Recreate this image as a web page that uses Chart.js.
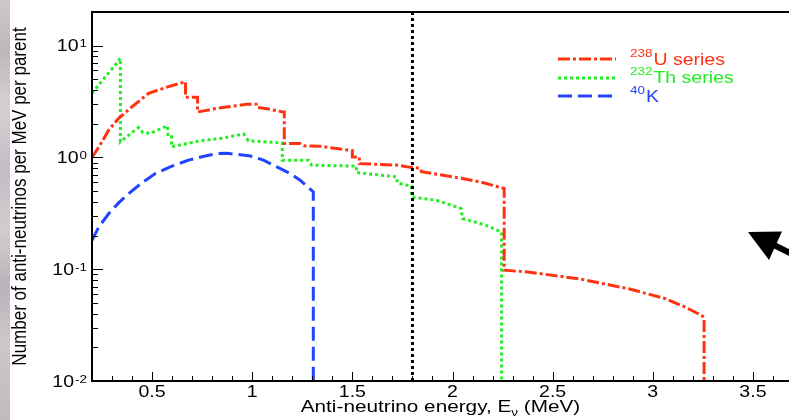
<!DOCTYPE html>
<html>
<head>
<meta charset="utf-8">
<title>Geo-neutrino spectra</title>
<script src="https://cdn.jsdelivr.net/npm/chart.js@4.4.0/dist/chart.umd.min.js"></script>
<style>
    html, body { margin: 0; padding: 0; overflow: hidden; background: #fff; }
    #wrap { position: relative; width: 789px; height: 420px; overflow: hidden; background: #fff; }
    #edge {
        position: absolute; left: 0; top: 0; width: 10px; height: 420px;
        background: linear-gradient(180deg, #cfc9cf 0%, #bdb6bd 12%, #d6d0d6 25%, #c3bcc4 40%,
                    #d2ccd2 55%, #b9b2ba 68%, #cdc7cd 82%, #c1bac1 100%);
    }
    #spectrum { position: absolute; left: 0; top: 0; }
</style>
</head>
<body>
<div id="wrap">
    <div id="edge"></div>
    <canvas id="spectrum" width="800" height="420"></canvas>
</div>
<script>
// anti-neutrino spectra of the 238U and 232Th chains and of 40K (per MeV, per parent decay)
const uEnergy = [0.2, 0.234, 0.284, 0.333, 0.4, 0.483, 0.582, 0.667, 0.667, 0.727, 0.727, 0.824, 0.907, 0.974,
    1.02, 1.023, 1.09, 1.148, 1.16, 1.16, 1.24, 1.26, 1.34, 1.42, 1.5, 1.5, 1.535, 1.535, 1.72, 1.79, 1.84, 1.845,
    1.886, 2.05, 2.15, 2.258, 2.258, 2.385, 2.632, 2.88, 3.065, 3.163, 3.244, 3.256, 3.256];
const uValue = [1.0, 1.24, 1.76, 2.24, 2.84, 3.75, 4.3, 4.75, 3.45, 3.45, 2.55, 2.75, 2.88, 2.99,
    2.99, 2.81, 2.69, 2.56, 2.55, 1.33, 1.33, 1.27, 1.26, 1.2, 1.15, 1.01, 1.01, 0.88, 0.855, 0.815, 0.8, 0.745,
    0.727, 0.648, 0.597, 0.527, 0.098, 0.094, 0.082, 0.0668, 0.0544, 0.0457, 0.0385, 0.037, 0.01];

const thEnergy = [0.2, 0.267, 0.317, 0.342, 0.342, 0.39, 0.433, 0.455, 0.49, 0.577, 0.58, 0.597, 0.597, 0.682,
    0.741, 0.841, 0.957, 0.981, 1.15, 1.15, 1.28, 1.297, 1.52, 1.52, 1.72, 1.725, 1.795, 1.795, 1.919, 2.043,
    2.05, 2.168, 2.245, 2.245];
const thValue = [3.75, 5.28, 6.73, 7.73, 1.38, 1.62, 1.85, 1.66, 1.64, 1.92, 1.53, 1.53, 1.245, 1.34,
    1.41, 1.48, 1.62, 1.41, 1.35, 0.946, 0.946, 0.853, 0.835, 0.733, 0.67, 0.59, 0.553, 0.443, 0.414, 0.349,
    0.284, 0.247, 0.215, 0.01];

const kEnergy = [0.2, 0.234, 0.284, 0.333, 0.383, 0.449, 0.516, 0.599, 0.682, 0.765, 0.831, 0.874, 0.99,
    1.056, 1.123, 1.189, 1.239, 1.305, 1.305];
const kValue = [0.181, 0.239, 0.315, 0.392, 0.475, 0.592, 0.719, 0.836, 0.946, 1.03, 1.086, 1.09, 1.03,
    0.946, 0.824, 0.719, 0.626, 0.491, 0.01];

// inverse beta decay threshold
const thresholdEnergy = 1.8;

const xTickValues = [0.5, 1, 1.5, 2, 2.5, 3, 3.5];
const xTickLabels = ['0.5', '1', '1.5', '2', '2.5', '3', '3.5'];
const yTickExponents = [1, 0, -1, -2];
const yTickLabels = ['1', '0', '-1', '-2'];

const seriesNames = [['238', 'U series'], ['232', 'Th series'], ['40', 'K']];

const xMin = 0.2, xMax = 3.71;
const yMin = 0.01, yMax = 20;

const FONT = '"Liberation Sans", Arial, sans-serif';
const TEXT_SX = 1.22;   // wide Helvetica look

function toPoints(xs, ys) {
    return xs.map((x, i) => ({ x: x, y: ys[i] }));
}

// text widened horizontally, anchored left / center / right
function wideText(ctx, text, x, y, align) {
    const w = ctx.measureText(text).width * TEXT_SX;
    let left = x;
    if (align === 'center') left = x - w / 2;
    else if (align === 'right') left = x - w;
    ctx.save();
    ctx.translate(left, y);
    ctx.scale(TEXT_SX, 1);
    ctx.textAlign = 'left';
    ctx.fillText(text, 0, 0);
    ctx.restore();
    return w;
}

// ROOT style frame, inward ticks, labels, legend and the arrow
const framePlugin = {
    id: 'frame',
    afterDraw(chart) {
        const ctx = chart.ctx;
        const area = chart.chartArea;
        const xs = chart.scales.x;
        const ys = chart.scales.y;

        ctx.save();
        ctx.strokeStyle = '#000';
        ctx.lineWidth = 2;
        ctx.setLineDash([]);
        ctx.strokeRect(area.left, area.top, area.right - area.left, area.bottom - area.top);

        // x ticks every 0.1 MeV, longer ones at the labelled values
        ctx.lineWidth = 1;
        ctx.beginPath();
        for (let i = 2; i <= 37; i++) {
            const e = i / 10;
            if (e > xMax) break;
            const px = Math.round(xs.getPixelForValue(e)) + 0.5;
            const len = (i % 5 === 0) ? 9 : 5;
            ctx.moveTo(px, area.bottom);
            ctx.lineTo(px, area.bottom - len);
        }
        // y ticks: decades long, 2..9 short
        for (let p = -2; p <= 1; p++) {
            for (let m = 1; m <= 9; m++) {
                const v = m * Math.pow(10, p);
                if (v <= yMin || v >= yMax) continue;
                const py = Math.round(ys.getPixelForValue(v)) + 0.5;
                const len = (m === 1) ? 11 : 6;
                ctx.moveTo(area.left, py);
                ctx.lineTo(area.left + len, py);
            }
        }
        ctx.stroke();

        ctx.fillStyle = '#000';
        ctx.textBaseline = 'alphabetic';

        // x tick labels
        ctx.font = '16px ' + FONT;
        xTickValues.forEach((v, i) => {
            wideText(ctx, xTickLabels[i], xs.getPixelForValue(v), area.bottom + 16, 'center');
        });

        // y tick labels 10^n
        yTickExponents.forEach((p, i) => {
            const py = ys.getPixelForValue(Math.pow(10, p));
            ctx.font = '11px ' + FONT;
            const supW = wideText(ctx, yTickLabels[i], 87, py + 1.5, 'right');
            ctx.font = '16px ' + FONT;
            wideText(ctx, '10', 87 - supW - 1, py + 5.5, 'right');
        });

        // x axis title with subscript
        const parts = [['Anti-neutrino energy, E', 17, 0], ['\u03bd', 11, 4], [' (MeV)', 17, 0]];
        let total = 0;
        parts.forEach(pt => { ctx.font = pt[1] + 'px ' + FONT; total += ctx.measureText(pt[0]).width * TEXT_SX; });
        let tx = (area.left + area.right) / 2 - 3 - total / 2;
        parts.forEach(pt => {
            ctx.font = pt[1] + 'px ' + FONT;
            tx += wideText(ctx, pt[0], tx, 412 + pt[2], 'left');
        });

        // y axis title
        ctx.save();
        ctx.translate(26, (area.top + area.bottom) / 2);
        ctx.rotate(-Math.PI / 2);
        ctx.scale(1, TEXT_SX);
        ctx.font = '17px ' + FONT;
        ctx.textAlign = 'center';
        ctx.fillText('Number of anti-neutrinos per MeV per parent', 0, 0);
        ctx.restore();

        // legend
        const rows = [{ ds: 1, y: 59, base: 65 }, { ds: 2, y: 78, base: 83 }, { ds: 3, y: 96, base: 102 }];
        rows.forEach((r, i) => {
            const ds = chart.data.datasets[r.ds];
            ctx.strokeStyle = ds.borderColor;
            ctx.lineWidth = ds.borderWidth;
            ctx.setLineDash(ds.borderDash);
            ctx.beginPath();
            ctx.moveTo(558, r.y);
            ctx.lineTo(616, r.y);
            ctx.stroke();
            ctx.setLineDash([]);
            ctx.fillStyle = ds.borderColor;
            ctx.font = '11px ' + FONT;
            const w = wideText(ctx, seriesNames[i][0], 630, r.base - 8, 'left');
            ctx.font = '16px ' + FONT;
            wideText(ctx, seriesNames[i][1], 630 + w + 1, r.base, 'left');
        });

        // arrow pointing into the plot
        ctx.fillStyle = '#000';
        ctx.strokeStyle = '#000';
        ctx.lineWidth = 6;
        ctx.beginPath();
        ctx.moveTo(772, 244);
        ctx.lineTo(792, 254);
        ctx.stroke();
        ctx.beginPath();
        ctx.moveTo(748, 232);
        ctx.lineTo(782, 231.5);
        ctx.lineTo(769, 260);
        ctx.closePath();
        ctx.fill();

        ctx.restore();
    }
};

const ctx = document.getElementById('spectrum').getContext('2d');
const spectrumChart = new Chart(ctx, {
    type: 'line',
    data: {
        datasets: [
            {
                label: 'threshold',
                data: [{ x: thresholdEnergy, y: yMin }, { x: thresholdEnergy, y: yMax }],
                borderColor: '#000000',
                borderWidth: 3,
                borderDash: [3, 3]
            },
            {
                label: '238U series',
                data: toPoints(uEnergy, uValue),
                borderColor: '#ff3311',
                borderWidth: 3,
                borderDash: [12, 3, 3, 3]
            },
            {
                label: '232Th series',
                data: toPoints(thEnergy, thValue),
                borderColor: '#22ee22',
                borderWidth: 3,
                borderDash: [3, 3]
            },
            {
                label: '40K',
                data: toPoints(kEnergy, kValue),
                borderColor: '#2244ff',
                borderWidth: 3,
                borderDash: [14, 6]
            }
        ]
    },
    options: {
        responsive: false,
        animation: false,
        events: [],
        layout: { padding: { left: 92, top: 12, right: 5, bottom: 39 } },
        elements: {
            point: { radius: 0 },
            line: { tension: 0, fill: false, borderCapStyle: 'butt' }
        },
        scales: {
            x: { type: 'linear', min: xMin, max: xMax, display: false },
            y: { type: 'logarithmic', min: yMin, max: yMax, display: false }
        },
        plugins: { legend: { display: false }, tooltip: { enabled: false } }
    },
    plugins: [framePlugin]
});
</script>
</body>
</html>
